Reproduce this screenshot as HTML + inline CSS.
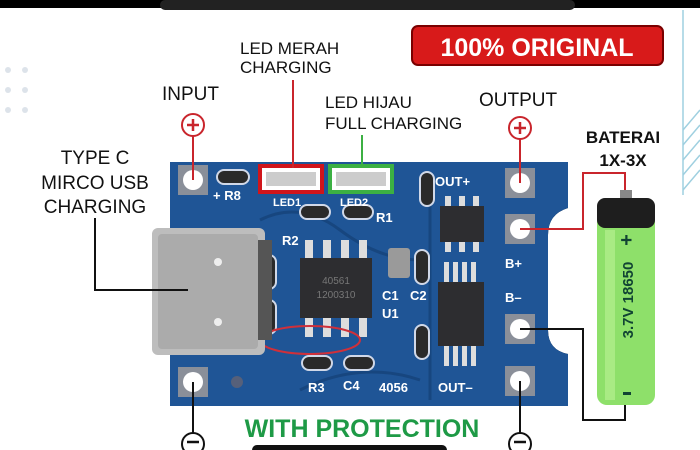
<!DOCTYPE html>
<html><head><meta charset="utf-8"><style>
html,body{margin:0;padding:0;background:#fff;}
svg{display:block;}
text{font-family:"Liberation Sans",sans-serif;}
</style></head><body>
<svg width="700" height="450" viewBox="0 0 700 450" xmlns="http://www.w3.org/2000/svg">
<rect width="700" height="450" fill="#fff"/>
<rect x="0" y="0" width="700" height="8" fill="#000"/>
<rect x="160" y="0" width="415" height="10" rx="5" fill="#222"/>
<rect x="252" y="445" width="195" height="10" rx="5" fill="#111"/>
<g stroke="#9fd0e0" stroke-width="1.5" fill="none">
<line x1="683" y1="190" x2="700" y2="170"/><line x1="683" y1="175" x2="700" y2="155"/><line x1="683" y1="160" x2="700" y2="140"/><line x1="683" y1="145" x2="700" y2="125"/><line x1="683" y1="130" x2="700" y2="110"/>
<line x1="683" y1="10" x2="683" y2="195"/>
</g>
<g fill="#dde3ea"><circle cx="8" cy="70" r="3"/><circle cx="25" cy="70" r="3"/><circle cx="8" cy="90" r="3"/><circle cx="25" cy="90" r="3"/><circle cx="8" cy="110" r="3"/><circle cx="25" cy="110" r="3"/></g>

<rect x="412" y="26" width="251" height="39" rx="6" fill="#d81a1a" stroke="#7a0000" stroke-width="2"/>
<text x="537" y="56" text-anchor="middle" font-size="25" font-weight="bold" fill="#fff">100% ORIGINAL</text>

<g fill="#111">
<text x="240" y="54" font-size="17">LED MERAH</text>
<text x="240" y="73" font-size="17">CHARGING</text>
<text x="162" y="100" font-size="19">INPUT</text>
<text x="325" y="108" font-size="17">LED HIJAU</text>
<text x="325" y="129" font-size="17">FULL CHARGING</text>
<text x="479" y="106" font-size="19">OUTPUT</text>
<text x="95" y="164" text-anchor="middle" font-size="19">TYPE C</text>
<text x="95" y="189" text-anchor="middle" font-size="19">MIRCO USB</text>
<text x="95" y="213" text-anchor="middle" font-size="19">CHARGING</text>
</g>
<text x="623" y="143" text-anchor="middle" font-size="17" font-weight="bold" fill="#111">BATERAI</text>
<text x="623" y="166" text-anchor="middle" font-size="17" font-weight="bold" fill="#111">1X-3X</text>
<text x="362" y="437" text-anchor="middle" font-size="25" font-weight="bold" fill="#1e9a46">WITH PROTECTION</text>

<path d="M170 162 H568 V208 Q548 214 548 235 V330 Q548 350 568 354 V406 H170 Z" fill="#1f55980"/>
<path d="M170 162 H568 V208 Q548 214 548 235 V330 Q548 350 568 354 V406 H170 Z" fill="#1f5596"/>
<g fill="none" stroke="#17467f" stroke-width="3">
<path d="M260 220 Q300 200 340 230 T420 260"/><path d="M430 180 V400"/><path d="M300 390 Q360 360 420 380"/>
</g>
<g fill="#8a8f99">
<rect x="178" y="165" width="30" height="30"/><rect x="178" y="367" width="30" height="30"/>
<rect x="505" y="168" width="30" height="30"/><rect x="505" y="214" width="30" height="30"/>
<rect x="505" y="314" width="30" height="30"/><rect x="505" y="366" width="30" height="30"/>
</g>
<g fill="#fff">
<circle cx="193" cy="180" r="10"/><circle cx="193" cy="382" r="10"/>
<circle cx="520" cy="183" r="10"/><circle cx="520" cy="229" r="10"/>
<circle cx="520" cy="329" r="10"/><circle cx="520" cy="381" r="10"/>
</g>
<rect x="260" y="166" width="62" height="26" fill="#fff" stroke="#d0151b" stroke-width="4"/>
<rect x="330" y="166" width="62" height="26" fill="#fff" stroke="#3cb043" stroke-width="4"/>
<rect x="266" y="172" width="50" height="14" fill="#ccc"/>
<rect x="336" y="172" width="50" height="14" fill="#ccc"/>
<g fill="#2a2a2a" stroke="#d0d8e8" stroke-width="2">
<rect x="217" y="170" width="32" height="14" rx="7"/>
<rect x="300" y="205" width="30" height="14" rx="7"/>
<rect x="343" y="205" width="30" height="14" rx="7"/>
<rect x="420" y="172" width="14" height="34" rx="7"/>
<rect x="262" y="255" width="14" height="34" rx="7"/>
<rect x="262" y="300" width="14" height="34" rx="7"/>
<rect x="415" y="250" width="14" height="34" rx="7"/>
<rect x="415" y="325" width="14" height="34" rx="7"/>
<rect x="302" y="356" width="30" height="14" rx="7"/>
<rect x="344" y="356" width="30" height="14" rx="7"/>
</g>
<rect x="388" y="248" width="22" height="30" fill="#9a9a9a" rx="3"/>
<g fill="#ddd"><rect x="305" y="240" width="8" height="22"/><rect x="323" y="240" width="8" height="22"/><rect x="341" y="240" width="8" height="22"/><rect x="359" y="240" width="8" height="22"/>
<rect x="305" y="315" width="8" height="22"/><rect x="323" y="315" width="8" height="22"/><rect x="341" y="315" width="8" height="22"/><rect x="359" y="315" width="8" height="22"/></g>
<rect x="300" y="258" width="72" height="60" fill="#2d2d30"/>
<text x="336" y="284" text-anchor="middle" font-size="10" fill="#777">40561</text>
<text x="336" y="298" text-anchor="middle" font-size="10" fill="#777">1200310</text>
<g fill="#ddd"><rect x="445" y="196" width="6" height="12"/><rect x="459" y="196" width="6" height="12"/><rect x="473" y="196" width="6" height="12"/>
<rect x="445" y="240" width="6" height="12"/><rect x="459" y="240" width="6" height="12"/><rect x="473" y="240" width="6" height="12"/>
<rect x="444" y="262" width="5" height="22"/><rect x="453" y="262" width="5" height="22"/><rect x="462" y="262" width="5" height="22"/><rect x="471" y="262" width="5" height="22"/>
<rect x="444" y="344" width="5" height="22"/><rect x="453" y="344" width="5" height="22"/><rect x="462" y="344" width="5" height="22"/><rect x="471" y="344" width="5" height="22"/></g>
<rect x="440" y="206" width="44" height="36" fill="#2d2d30"/>
<rect x="438" y="282" width="46" height="64" fill="#2d2d30"/>
<g font-size="13" font-weight="bold" fill="#fff">
<text x="213" y="200">+ R8</text><text x="273" y="206" font-size="11">LED1</text><text x="340" y="206" font-size="11">LED2</text>
<text x="376" y="222">R1</text><text x="282" y="245">R2</text><text x="435" y="186">OUT+</text>
<text x="505" y="268">B+</text><text x="505" y="302">B–</text>
<text x="382" y="300">C1</text><text x="410" y="300">C2</text><text x="382" y="318">U1</text>
<text x="308" y="392">R3</text><text x="343" y="390">C4</text><text x="379" y="392">4056</text><text x="438" y="392">OUT–</text>
</g>
<circle cx="237" cy="382" r="6" fill="#56607a"/>
<ellipse cx="310" cy="340" rx="50" ry="14" fill="none" stroke="#d0303a" stroke-width="2"/>
<rect x="152" y="228" width="113" height="127" rx="6" fill="#bdbdbd"/>
<rect x="158" y="234" width="100" height="115" rx="4" fill="#ababab"/>
<rect x="258" y="240" width="14" height="100" fill="#555"/>
<circle cx="218" cy="262" r="4" fill="#eee"/><circle cx="218" cy="322" r="4" fill="#eee"/>

<g stroke="#c9252c" stroke-width="2" fill="none">
<line x1="193" y1="135" x2="193" y2="180"/>
<circle cx="193" cy="125" r="11"/>
<line x1="293" y1="80" x2="293" y2="168"/>
<line x1="520" y1="138" x2="520" y2="183"/>
<circle cx="520" cy="128" r="11"/>
<path d="M520 229 H583 V173 H625 V198"/>
</g>
<g stroke="#c9252c" stroke-width="2.5"><line x1="187" y1="125" x2="199" y2="125"/><line x1="193" y1="119" x2="193" y2="131"/><line x1="514" y1="128" x2="526" y2="128"/><line x1="520" y1="122" x2="520" y2="134"/></g>
<line x1="362" y1="135" x2="362" y2="168" stroke="#3cb043" stroke-width="2"/>
<g stroke="#111" stroke-width="2" fill="none">
<path d="M95 218 V290 H188"/>
<line x1="193" y1="382" x2="193" y2="433"/>
<circle cx="193" cy="444" r="11"/>
<line x1="520" y1="381" x2="520" y2="433"/>
<circle cx="520" cy="444" r="11"/>
<path d="M520 329 H583 V420 H625 V405"/>
</g>
<g stroke="#111" stroke-width="2.5"><line x1="187" y1="442" x2="199" y2="442"/><line x1="514" y1="442" x2="526" y2="442"/></g>
<rect x="620" y="190" width="12" height="10" fill="#888"/>
<rect x="597" y="198" width="58" height="207" rx="10" fill="#8ee06a"/>
<rect x="597" y="198" width="58" height="30" rx="8" fill="#1e1e1e"/>
<rect x="605" y="230" width="10" height="170" fill="#b5f090" opacity=".7"/>
<text transform="translate(633,300) rotate(-90)" text-anchor="middle" font-size="15" font-weight="bold" fill="#143">3.7V 18650</text>
<text transform="translate(633,240) rotate(-90)" text-anchor="middle" font-size="20" font-weight="bold" fill="#143">+</text>
<rect x="623" y="392" width="8" height="3" fill="#143"/>
</svg>
</body></html>
